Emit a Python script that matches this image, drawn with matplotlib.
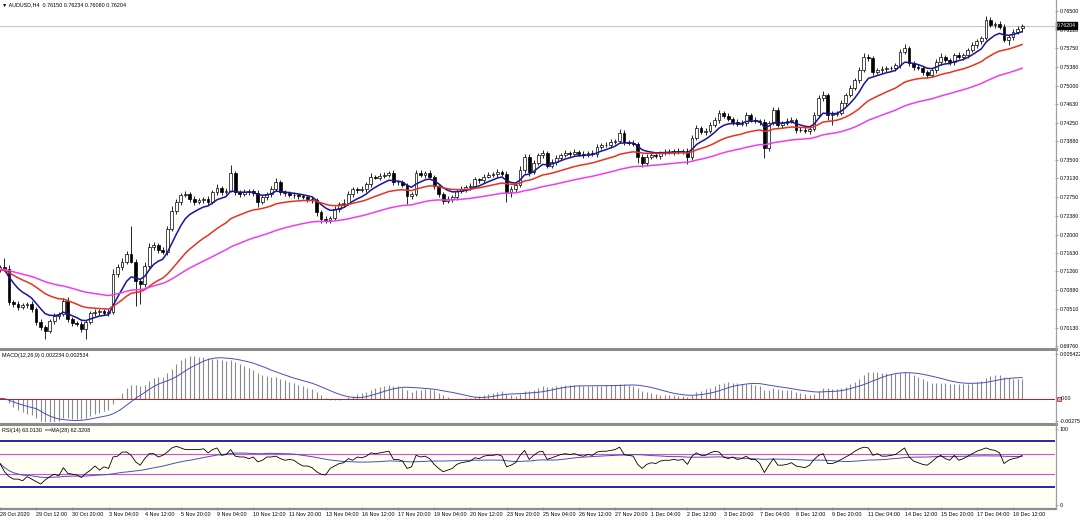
import numpy as np
import pandas as pd
import matplotlib
matplotlib.use("Agg")
import matplotlib.pyplot as plt
from matplotlib.lines import Line2D
from matplotlib.transforms import blended_transform_factory

plt.rcParams["font.family"] = ["Liberation Sans", "DejaVu Sans"]

# ---- data (AUDUSD H4, 28 Oct - 18 Dec 2020) ----
symbol = "AUDUSD,H4"
last_ohlc = [0.76150, 0.76234, 0.76080, 0.76204]
first_open = 0.7130

closes = [
    0.7134, 0.7130, 0.7064, 0.7060, 0.7054, 0.7058, 0.7060, 0.7050, 0.7024, 0.7014,
    0.7006, 0.7026, 0.7036, 0.7040, 0.7066, 0.7030, 0.7022, 0.7020, 0.7010, 0.7024,
    0.7042, 0.7044, 0.7046, 0.7042, 0.7044, 0.7120, 0.7134, 0.7146, 0.7162, 0.7146,
    0.7106, 0.7100, 0.7136, 0.7175, 0.7179, 0.7169, 0.7165, 0.7211, 0.7247, 0.7265,
    0.7279, 0.7281, 0.7271, 0.7265, 0.7269, 0.7271, 0.7265, 0.7285, 0.7293, 0.7285,
    0.7287, 0.7325, 0.7285, 0.7281, 0.7285, 0.7287, 0.7283, 0.7265, 0.7275, 0.7281,
    0.7291, 0.7305, 0.7285, 0.7283, 0.7279, 0.7279, 0.7277, 0.7275, 0.7271, 0.7269,
    0.7245, 0.7231, 0.7229, 0.7233, 0.7251, 0.7261, 0.7263, 0.7281, 0.7291, 0.7289,
    0.7291, 0.7301, 0.7317, 0.7315, 0.7319, 0.7321, 0.7325, 0.7305, 0.7305, 0.7299,
    0.7277, 0.7281, 0.7325, 0.7321, 0.7325, 0.7317, 0.7297, 0.7281, 0.7267, 0.7271,
    0.7275, 0.7287, 0.7291, 0.7295, 0.7297, 0.7311, 0.7309, 0.7317, 0.7321, 0.7323,
    0.7327, 0.7323, 0.7285, 0.7291, 0.7299, 0.7331, 0.7357, 0.7327, 0.7345, 0.7361,
    0.7365, 0.7339, 0.7347, 0.7355, 0.7361, 0.7365, 0.7363, 0.7367, 0.7363, 0.7361,
    0.7365, 0.7363, 0.7377, 0.7381, 0.7381, 0.7387, 0.7389, 0.7405, 0.7387, 0.7385,
    0.7383, 0.7357, 0.7345, 0.7357, 0.7361, 0.7359, 0.7365, 0.7367, 0.7367, 0.7369,
    0.7367, 0.7369, 0.7357, 0.7395, 0.7415, 0.7407, 0.7409, 0.7421, 0.7431, 0.7445,
    0.7439, 0.7433, 0.7427, 0.7423, 0.7425, 0.7441, 0.7431, 0.7429, 0.7427, 0.7375,
    0.7425, 0.7451, 0.7421, 0.7425, 0.7429, 0.7431, 0.7411, 0.7411, 0.7409, 0.7413,
    0.7441, 0.7475, 0.7481, 0.7441, 0.7443, 0.7445, 0.7465, 0.7481, 0.7495, 0.7511,
    0.7531, 0.7557, 0.7555, 0.7527, 0.7531, 0.7533, 0.7535, 0.7535, 0.7541, 0.7567,
    0.7575, 0.7545, 0.7537, 0.7535, 0.7527, 0.7521, 0.7531, 0.7547, 0.7557, 0.7551,
    0.7547, 0.7561, 0.7557, 0.7561, 0.7571, 0.7581, 0.7589, 0.7595, 0.7632, 0.7622,
    0.7624, 0.7618, 0.7592, 0.7598, 0.7608, 0.7614, 0.76204,
]

# wick lengths in pips above / below the body
upper_wick = [
    4, 20, 8, 5, 6, 4, 5, 6, 4, 6,
    5, 4, 6, 5, 6, 8, 4, 5, 6, 4,
    5, 6, 4, 5, 6, 10, 6, 8, 5, 55,
    6, 4, 8, 8, 6, 5, 6, 6, 10, 6,
    5, 6, 4, 6, 5, 4, 6, 5, 8, 4,
    6, 16, 4, 5, 6, 4, 5, 6, 5, 4,
    6, 8, 4, 5, 4, 6, 4, 5, 4, 6,
    4, 5, 6, 4, 6, 5, 8, 6, 5, 4,
    6, 5, 8, 4, 6, 5, 4, 6, 5, 4,
    5, 4, 6, 5, 4, 6, 4, 5, 4, 6,
    4, 5, 6, 4, 6, 5, 4, 6, 5, 4,
    6, 4, 5, 6, 4, 8, 6, 5, 6, 4,
    5, 4, 6, 5, 4, 6, 4, 5, 4, 6,
    4, 5, 6, 4, 6, 5, 4, 8, 5, 4,
    6, 4, 5, 6, 4, 5, 4, 6, 5, 4,
    5, 4, 6, 5, 6, 4, 5, 6, 5, 6,
    4, 5, 4, 6, 5, 6, 4, 5, 4, 5,
    4, 6, 5, 4, 6, 5, 4, 6, 5, 4,
    6, 6, 8, 4, 5, 4, 6, 5, 6, 5,
    6, 8, 6, 4, 5, 6, 4, 5, 4, 6,
    8, 4, 5, 6, 4, 5, 4, 6, 8, 4,
    5, 4, 6, 5, 4, 6, 5, 4, 8, 5,
    4, 6, 5, 4, 6, 5, 3,
]
lower_wick = [
    5, 4, 6, 5, 6, 4, 5, 6, 5, 6,
    15, 4, 5, 6, 4, 5, 6, 4, 6, 20,
    4, 5, 6, 4, 5, 4, 6, 5, 6, 4,
    50, 40, 6, 4, 5, 6, 4, 5, 4, 6,
    5, 4, 6, 5, 4, 6, 5, 4, 6, 5,
    4, 2, 6, 5, 4, 6, 5, 10, 4, 6,
    5, 4, 6, 5, 4, 6, 5, 4, 6, 5,
    8, 8, 5, 6, 4, 5, 6, 4, 5, 6,
    4, 5, 6, 4, 5, 6, 4, 6, 5, 4,
    15, 6, 4, 5, 6, 4, 6, 5, 6, 4,
    5, 6, 4, 5, 6, 4, 5, 6, 4, 5,
    6, 4, 20, 10, 5, 4, 6, 8, 4, 5,
    6, 5, 4, 6, 5, 4, 6, 5, 4, 6,
    4, 5, 6, 4, 5, 6, 4, 5, 6, 4,
    5, 12, 8, 6, 4, 5, 6, 4, 5, 6,
    4, 5, 15, 6, 4, 5, 6, 4, 5, 6,
    4, 5, 6, 4, 5, 6, 4, 5, 6, 20,
    6, 4, 5, 6, 4, 5, 6, 4, 5, 6,
    4, 5, 6, 10, 20, 5, 4, 6, 5, 4,
    5, 4, 6, 5, 4, 6, 5, 4, 6, 5,
    4, 6, 5, 4, 6, 5, 4, 5, 6, 4,
    5, 6, 4, 5, 6, 4, 5, 6, 4, 5,
    6, 4, 5, 10, 6, 5, 7,
]

# RSI(14) line
rsi_values = [
    53, 43, 37, 34, 34, 32, 37, 34, 31, 28,
    33, 37, 40, 38, 48, 41, 40, 39, 36, 41,
    45, 50, 45, 49, 47, 61, 62, 67, 67, 63,
    55, 51, 59, 65, 65, 61, 63, 67, 72, 74,
    72, 70, 70, 70, 70, 71, 66, 70, 72, 63,
    64, 70, 62, 61, 61, 59, 61, 55, 57, 61,
    61, 62, 59, 57, 58, 57, 53, 50, 50, 48,
    43, 40, 39, 47, 50, 53, 54, 59, 57, 61,
    60, 62, 66, 65, 66, 67, 68, 58, 58, 56,
    47, 49, 63, 61, 62, 59, 52, 47, 43, 45,
    47, 52, 54, 55, 56, 60, 59, 62, 63, 63,
    64, 62, 49, 51, 54, 63, 69, 58, 63, 67,
    68, 58, 60, 62, 64, 65, 64, 65, 63, 62,
    64, 63, 67, 68, 68, 69, 70, 73, 64, 63,
    62, 52, 47, 52, 54, 53, 56, 57, 57, 58,
    57, 58, 52, 62, 66, 63, 63, 66, 68, 67,
    61, 59, 61, 58, 59, 62, 58, 58, 53, 42,
    51, 59, 51, 51, 52, 54, 50, 49, 48, 51,
    58, 63, 65, 53, 53, 55, 58, 61, 64, 68,
    71, 73, 72, 63, 65, 62, 62, 63, 64, 68,
    72, 61, 56, 54, 52, 51, 55, 60, 63, 59,
    57, 63, 57, 59, 62, 65, 68, 70, 72, 70,
    69, 66, 53, 57, 59, 60, 63.013,
]

date_labels = [
    "28 Oct 2020", "29 Oct 12:00", "30 Oct 20:00", "3 Nov 04:00", "4 Nov 12:00",
    "5 Nov 20:00", "9 Nov 04:00", "10 Nov 12:00", "11 Nov 20:00", "13 Nov 04:00",
    "16 Nov 12:00", "17 Nov 20:00", "19 Nov 04:00", "20 Nov 12:00", "23 Nov 20:00",
    "25 Nov 04:00", "26 Nov 12:00", "27 Nov 20:00", "1 Dec 04:00", "2 Dec 12:00",
    "3 Dec 20:00", "7 Dec 04:00", "8 Dec 12:00", "9 Dec 20:00", "11 Dec 04:00",
    "14 Dec 12:00", "15 Dec 20:00", "17 Dec 04:00", "18 Dec 12:00",
]
price_ticks = [0.76500, 0.76120, 0.75750, 0.75380, 0.75000, 0.74630, 0.74250,
               0.73880, 0.73500, 0.73130, 0.72750, 0.72380, 0.72000, 0.71630,
               0.71260, 0.70880, 0.70510, 0.70130, 0.69760]

ma_periods = [8, 24, 55]
ma_start = [0.7128, 0.7128, 0.7130]
ma_colors = ["#1414a0", "#e8321e", "#f03cf0"]

macd_text = "MACD(12,26,9) 0.002234 0.002534"
macd_ticks = [0.005422, -0.00275]
macd_tick_labels = ["0.005422", "-0.00275"]
rsi_text = "RSI(14) 63.0130  ==MA(28) 62.3208"
rsi_bold_levels = [80, 25]
rsi_thin_levels = [65, 40]

# ---- derived series ----
c = np.array(closes)
o = np.r_[first_open, c[:-1]]
o[-1] = last_ohlc[0]
pip = 0.0001
h = np.maximum(o, c) + np.array(upper_wick) * pip
l = np.minimum(o, c) - np.array(lower_wick) * pip
h[-1] = last_ohlc[1]
l[-1] = last_ohlc[2]
x = np.arange(len(c))


def ema(vals, n, start):
    a = 2.0 / (n + 1)
    out = []
    v = start
    for val in vals:
        v = v + a * (val - v)
        out.append(v)
    return np.array(out)


macd = ema(c, 12, c[0]) - ema(c, 26, c[0])
signal = pd.Series(macd).rolling(9, min_periods=1).mean().values

rsi = np.array(rsi_values, dtype=float)
rsi_ma = pd.Series(rsi).rolling(28, min_periods=1).mean().values

# ---- layout in pixels ----
W, H = 1080, 520
fig = plt.figure(figsize=(W / 100, H / 100), dpi=100)
fig.patch.set_facecolor("white")


def box(top, bottom, right=1055):
    return [0, 1 - bottom / H, right / W, (bottom - top) / H]


ax_p = fig.add_axes(box(0, 347))
ax_m = fig.add_axes(box(350, 422))
ax_r = fig.add_axes(box(425, 507))

xlim = (0.02, 233.27)
for ax in (ax_p, ax_m, ax_r):
    ax.set_xlim(*xlim)
    for s in ax.spines.values():
        s.set_visible(False)
    ax.yaxis.tick_right()
    ax.tick_params(axis="y", direction="out", length=2.5, width=0.6, color="#909090",
                   labelsize=3.8, pad=0.6)
    ax.tick_params(axis="x", bottom=False, labelbottom=False)

# price panel
ax_p.set_ylim(0.69740, 0.76721)
ax_p.set_yticks(price_ticks)
ax_p.set_yticklabels([f"{v:.5f}" for v in price_ticks])
ax_p.axhline(last_ohlc[3], color="#c8c8c8", lw=0.8, zorder=1)

ax_p.vlines(x, l, h, color="black", lw=0.6, zorder=3)
body_h = np.maximum(np.abs(c - o), 0.00003)
ax_p.bar(x, body_h, bottom=np.minimum(o, c), width=0.62,
         color=np.where(c >= o, "white", "black"), edgecolor="black",
         linewidth=0.5, zorder=3)
for n, s0, col in zip(ma_periods, ma_start, ma_colors):
    ax_p.plot(x, ema(c, n, s0), color=col, lw=1.1, zorder=4)

ax_p.text(0.002, 0.992, "\u25bc " + symbol + "  " + " ".join(f"{v:.5f}" for v in last_ohlc),
          transform=ax_p.transAxes, fontsize=3.9, va="top", ha="left",
          family=["Liberation Sans", "DejaVu Sans"])
tr = blended_transform_factory(ax_p.transAxes, ax_p.transData)
ax_p.text(1.0 + 2 / 1055, last_ohlc[3], f"{last_ohlc[3]:.5f}", transform=tr,
          fontsize=3.8, color="white", va="center", ha="left", zorder=10, clip_on=False,
          bbox=dict(boxstyle="square,pad=0.15", fc="black", ec="black"))

# MACD panel
k = 0.005422 / 44.5
ax_m.set_ylim(-23.5 * k, 48.5 * k)
ax_m.vlines(x, 0, macd, color="#8a8a8a", lw=0.8)
ax_m.plot(x, signal, color="#4b4bc0", lw=0.7)
ax_m.axhline(0, color="#d01010", lw=0.7)
ax_m.set_yticks(macd_ticks)
ax_m.set_yticklabels(macd_tick_labels)
trm = blended_transform_factory(ax_m.transAxes, ax_m.transData)
ax_m.plot([1.0 + 3.5 / 1055], [0], transform=trm, marker="s", ms=2.6,
          mfc="#f4a0a0", mec="#c01010", mew=0.5, clip_on=False)
ax_m.text(1.0 + 6 / 1055, 0, "0.00", transform=trm, fontsize=3.8,
          va="center", ha="left", clip_on=False)
ax_m.text(0.002, 0.96, macd_text, transform=ax_m.transAxes, fontsize=3.9,
          va="top", ha="left")

# RSI panel
ax_r.set_facecolor("#fffff4")
ax_r.set_ylim(0, 100)
for lv in rsi_bold_levels:
    ax_r.axhline(lv, color="#2626a8", lw=1.4)
for lv in rsi_thin_levels:
    ax_r.axhline(lv, color="#d84cd8", lw=0.8)
ax_r.plot(x, rsi_ma, color="#4b4bc0", lw=0.7)
ax_r.plot(x, rsi, color="black", lw=0.6)
ax_r.set_yticks([95, 2.5])
ax_r.set_yticklabels(["100", "0"])
ax_r.text(0.002, 0.96, rsi_text, transform=ax_r.transAxes, fontsize=3.9,
          va="top", ha="left")

ax_r.tick_params(axis="x", bottom=True, labelbottom=True, direction="out",
                 length=2.5, width=0.6, color="#909090", labelsize=3.9, pad=1)
ax_r.set_xticks(np.arange(len(date_labels)) * 8)
ax_r.set_xticklabels(date_labels)
for lbl in ax_r.get_xticklabels():
    lbl.set_ha("left")

# separators and frame lines
sep = "#8c8c8c"
for yp, lw in ((348.5, 2.2), (423.5, 2.2), (508.5, 1.6)):
    fig.add_artist(Line2D([0, 1055.5 / W], [1 - yp / H] * 2, color=sep, lw=lw))
fig.add_artist(Line2D([1055.5 / W] * 2, [1, 1 - 509 / H], color="#a0a0a0", lw=0.9))

fig.savefig("out.png", dpi=100)
